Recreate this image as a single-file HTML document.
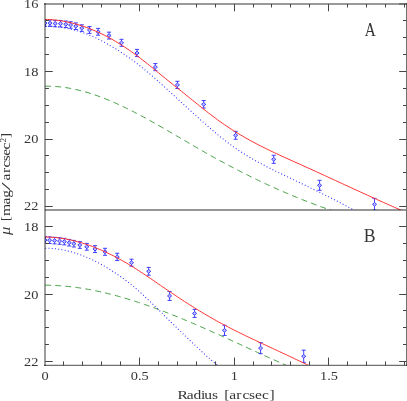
<!DOCTYPE html>
<html><head><meta charset="utf-8"><title>plot</title>
<style>html,body{margin:0;padding:0;background:#fff}svg{display:block}</style></head>
<body>
<svg width="407" height="401" viewBox="0 0 407 401">
<rect width="407" height="401" fill="#fff"/>
<defs><clipPath id="ca"><rect x="45" y="4" width="361" height="206"/></clipPath><clipPath id="cb"><rect x="45" y="210" width="361" height="155"/></clipPath></defs>
<g clip-path="url(#ca)" fill="none">
<path d="M45.20,86.24 L47.02,86.22 L48.85,86.23 L50.67,86.26 L52.49,86.33 L54.31,86.42 L56.14,86.54 L57.96,86.68 L59.78,86.86 L61.60,87.06 L63.43,87.29 L65.25,87.54 L67.07,87.82 L68.89,88.12 L70.72,88.45 L72.54,88.80 L74.36,89.17 L76.19,89.57 L78.01,89.99 L79.83,90.44 L81.65,90.90 L83.48,91.39 L85.30,91.90 L87.12,92.43 L88.94,92.98 L90.77,93.56 L92.59,94.15 L94.41,94.76 L96.23,95.39 L98.06,96.03 L99.88,96.70 L101.70,97.38 L103.53,98.09 L105.35,98.80 L107.17,99.54 L108.99,100.29 L110.82,101.06 L112.64,101.84 L114.46,102.64 L116.28,103.45 L118.11,104.27 L119.93,105.11 L121.75,105.97 L123.57,106.83 L125.40,107.71 L127.22,108.60 L129.04,109.50 L130.87,110.42 L132.69,111.34 L134.51,112.28 L136.33,113.22 L138.16,114.18 L139.98,115.14 L141.80,116.12 L143.62,117.10 L145.45,118.09 L147.27,119.09 L149.09,120.09 L150.91,121.10 L152.74,122.12 L154.56,123.15 L156.38,124.18 L158.21,125.22 L160.03,126.26 L161.85,127.30 L163.67,128.35 L165.50,129.41 L167.32,130.46 L169.14,131.52 L170.96,132.59 L172.79,133.65 L174.61,134.72 L176.43,135.78 L178.25,136.85 L180.08,137.92 L181.90,138.99 L183.72,140.06 L185.55,141.13 L187.37,142.20 L189.19,143.26 L191.01,144.33 L192.84,145.39 L194.66,146.45 L196.48,147.51 L198.30,148.56 L200.13,149.61 L201.95,150.65 L203.77,151.69 L205.59,152.73 L207.42,153.76 L209.24,154.78 L211.06,155.80 L212.89,156.82 L214.71,157.83 L216.53,158.83 L218.35,159.83 L220.18,160.82 L222.00,161.81 L223.82,162.79 L225.64,163.77 L227.47,164.74 L229.29,165.71 L231.11,166.67 L232.93,167.62 L234.76,168.57 L236.58,169.51 L238.40,170.45 L240.22,171.38 L242.05,172.31 L243.87,173.23 L245.69,174.15 L247.52,175.06 L249.34,175.96 L251.16,176.86 L252.98,177.75 L254.81,178.64 L256.63,179.52 L258.45,180.39 L260.27,181.26 L262.10,182.12 L263.92,182.98 L265.74,183.83 L267.56,184.68 L269.39,185.52 L271.21,186.35 L273.03,187.18 L274.86,188.00 L276.68,188.82 L278.50,189.62 L280.32,190.43 L282.15,191.22 L283.97,192.01 L285.79,192.80 L287.61,193.58 L289.44,194.35 L291.26,195.12 L293.08,195.88 L294.90,196.63 L296.73,197.38 L298.55,198.12 L300.37,198.85 L302.20,199.58 L304.02,200.30 L305.84,201.01 L307.66,201.72 L309.49,202.43 L311.31,203.12 L313.13,203.81 L314.95,204.49 L316.78,205.17 L318.60,205.84 L320.42,206.50 L322.24,207.16 L324.07,207.81 L325.89,208.45 L327.71,209.09 L329.54,209.71 L331.36,210.34 L333.18,210.95 L335.00,211.56" stroke="#46a046" stroke-width="1.0" stroke-dasharray="5.9 4.19"/>
<path d="M45.00,25.91 L46.98,25.99 L48.96,26.09 L50.94,26.22 L52.92,26.37 L54.91,26.56 L56.89,26.78 L58.87,27.03 L60.85,27.30 L62.83,27.61 L64.81,27.96 L66.79,28.33 L68.77,28.74 L70.76,29.18 L72.74,29.66 L74.72,30.17 L76.70,30.71 L78.68,31.29 L80.66,31.91 L82.64,32.57 L84.62,33.26 L86.60,33.99 L88.59,34.76 L90.57,35.57 L92.55,36.42 L94.53,37.31 L96.51,38.23 L98.49,39.19 L100.47,40.19 L102.45,41.21 L104.43,42.27 L106.42,43.36 L108.40,44.48 L110.38,45.63 L112.36,46.80 L114.34,47.99 L116.32,49.21 L118.30,50.45 L120.28,51.72 L122.27,53.01 L124.25,54.33 L126.23,55.68 L128.21,57.06 L130.19,58.47 L132.17,59.91 L134.15,61.38 L136.13,62.88 L138.11,64.41 L140.10,65.97 L142.08,67.56 L144.06,69.17 L146.04,70.80 L148.02,72.46 L150.00,74.13 L151.98,75.83 L153.96,77.54 L155.94,79.27 L157.93,81.02 L159.91,82.78 L161.89,84.55 L163.87,86.33 L165.85,88.13 L167.83,89.93 L169.81,91.74 L171.79,93.55 L173.78,95.37 L175.76,97.19 L177.74,99.01 L179.72,100.84 L181.70,102.67 L183.68,104.49 L185.66,106.31 L187.64,108.13 L189.62,109.95 L191.61,111.76 L193.59,113.56 L195.57,115.36 L197.55,117.15 L199.53,118.93 L201.51,120.69 L203.49,122.45 L205.47,124.19 L207.45,125.92 L209.44,127.64 L211.42,129.34 L213.40,131.02 L215.38,132.69 L217.36,134.33 L219.34,135.95 L221.32,137.55 L223.30,139.13 L225.29,140.68 L227.27,142.20 L229.25,143.69 L231.23,145.16 L233.21,146.59 L235.19,147.99 L237.17,149.36 L239.15,150.69 L241.13,152.00 L243.12,153.27 L245.10,154.52 L247.08,155.74 L249.06,156.93 L251.04,158.10 L253.02,159.24 L255.00,160.37 L256.98,161.47 L258.96,162.55 L260.95,163.62 L262.93,164.67 L264.91,165.70 L266.89,166.72 L268.87,167.73 L270.85,168.72 L272.83,169.71 L274.81,170.69 L276.80,171.66 L278.78,172.62 L280.76,173.58 L282.74,174.54 L284.72,175.49 L286.70,176.44 L288.68,177.39 L290.66,178.34 L292.64,179.29 L294.63,180.24 L296.61,181.18 L298.59,182.13 L300.57,183.08 L302.55,184.03 L304.53,184.98 L306.51,185.93 L308.49,186.89 L310.48,187.85 L312.46,188.81 L314.44,189.77 L316.42,190.74 L318.40,191.71 L320.38,192.69 L322.36,193.67 L324.34,194.65 L326.32,195.65 L328.31,196.64 L330.29,197.65 L332.27,198.65 L334.25,199.67 L336.23,200.69 L338.21,201.72 L340.19,202.75 L342.17,203.79 L344.15,204.83 L346.14,205.88 L348.12,206.94 L350.10,208.00 L352.08,209.06 L354.06,210.13 L356.04,211.21 L358.02,212.29 L360.00,213.38" stroke="#3030ff" stroke-width="1.05" stroke-dasharray="1.0 2.26"/>
<path d="M45.00,19.85V21.25M45.00,24.95V26.35M42.95,19.85h4.1M42.95,26.35h4.1M42.95,23.10L45.00,21.25L47.05,23.10L45.00,24.95Z M50.00,19.90V21.30M50.00,25.00V26.40M47.95,19.90h4.1M47.95,26.40h4.1M47.95,23.15L50.00,21.30L52.05,23.15L50.00,25.00Z M55.20,20.25V21.65M55.20,25.35V26.75M53.15,20.25h4.1M53.15,26.75h4.1M53.15,23.50L55.20,21.65L57.25,23.50L55.20,25.35Z M60.50,20.45V21.85M60.50,25.55V26.95M58.45,20.45h4.1M58.45,26.95h4.1M58.45,23.70L60.50,21.85L62.55,23.70L60.50,25.55Z M65.80,21.05V22.45M65.80,26.15V27.55M63.75,21.05h4.1M63.75,27.55h4.1M63.75,24.30L65.80,22.45L67.85,24.30L65.80,26.15Z M70.60,21.75V23.15M70.60,26.85V28.25M68.55,21.75h4.1M68.55,28.25h4.1M68.55,25.00L70.60,23.15L72.65,25.00L70.60,26.85Z M75.80,22.90V24.35M75.80,28.05V29.50M73.75,22.90h4.1M73.75,29.50h4.1M73.75,26.20L75.80,24.35L77.85,26.20L75.80,28.05Z M81.80,24.80V26.25M81.80,29.95V31.40M79.75,24.80h4.1M79.75,31.40h4.1M79.75,28.10L81.80,26.25L83.85,28.10L81.80,29.95Z M89.50,26.60V28.15M89.50,31.85V33.40M87.45,26.60h4.1M87.45,33.40h4.1M87.45,30.00L89.50,28.15L91.55,30.00L89.50,31.85Z M98.10,28.40V29.95M98.10,33.65V35.20M96.05,28.40h4.1M96.05,35.20h4.1M96.05,31.80L98.10,29.95L100.15,31.80L98.10,33.65Z M109.00,32.15V33.75M109.00,37.45V39.05M106.95,32.15h4.1M106.95,39.05h4.1M106.95,35.60L109.00,33.75L111.05,35.60L109.00,37.45Z M121.50,39.30V40.95M121.50,44.65V46.30M119.45,39.30h4.1M119.45,46.30h4.1M119.45,42.80L121.50,40.95L123.55,42.80L121.50,44.65Z M137.00,49.40V51.15M137.00,54.85V56.60M134.95,49.40h4.1M134.95,56.60h4.1M134.95,53.00L137.00,51.15L139.05,53.00L137.00,54.85Z M155.30,63.55V65.25M155.30,68.95V70.65M153.25,63.55h4.1M153.25,70.65h4.1M153.25,67.10L155.30,65.25L157.35,67.10L155.30,68.95Z M177.40,81.30V83.05M177.40,86.75V88.50M175.35,81.30h4.1M175.35,88.50h4.1M175.35,84.90L177.40,83.05L179.45,84.90L177.40,86.75Z M203.70,100.55V102.45M203.70,106.15V108.05M201.65,100.55h4.1M201.65,108.05h4.1M201.65,104.30L203.70,102.45L205.75,104.30L203.70,106.15Z M235.60,131.35V133.45M235.60,137.15V139.25M233.55,131.35h4.1M233.55,139.25h4.1M233.55,135.30L235.60,133.45L237.65,135.30L235.60,137.15Z M273.70,155.25V157.45M273.70,161.15V163.35M271.65,155.25h4.1M271.65,163.35h4.1M271.65,159.30L273.70,157.45L275.75,159.30L273.70,161.15Z M319.60,180.30V183.45M319.60,187.15V190.30M317.55,180.30h4.1M317.55,190.30h4.1M317.55,185.30L319.60,183.45L321.65,185.30L319.60,187.15Z M374.50,198.40V202.45M374.50,206.15V210.20M372.45,198.40h4.1M372.45,210.20h4.1M372.45,204.30L374.50,202.45L376.55,204.30L374.50,206.15Z" stroke="#2020ff" stroke-width="0.85" fill="#2020ff" fill-opacity="0.3"/>
<path d="M45.20,19.36 L47.47,19.45 L49.74,19.59 L52.01,19.76 L54.28,19.98 L56.55,20.24 L58.82,20.53 L61.08,20.87 L63.35,21.25 L65.62,21.67 L67.89,22.13 L70.16,22.63 L72.43,23.18 L74.70,23.76 L76.97,24.38 L79.24,25.05 L81.51,25.76 L83.78,26.51 L86.05,27.30 L88.31,28.13 L90.58,29.00 L92.85,29.92 L95.12,30.88 L97.39,31.88 L99.66,32.92 L101.93,34.01 L104.20,35.13 L106.47,36.30 L108.74,37.51 L111.01,38.76 L113.28,40.05 L115.55,41.38 L117.81,42.75 L120.08,44.15 L122.35,45.60 L124.62,47.08 L126.89,48.59 L129.16,50.14 L131.43,51.73 L133.70,53.34 L135.97,55.00 L138.24,56.68 L140.51,58.40 L142.78,60.14 L145.05,61.92 L147.31,63.72 L149.58,65.54 L151.85,67.38 L154.12,69.24 L156.39,71.10 L158.66,72.96 L160.93,74.82 L163.20,76.68 L165.47,78.53 L167.74,80.37 L170.01,82.19 L172.28,84.00 L174.54,85.80 L176.81,87.60 L179.08,89.41 L181.35,91.21 L183.62,93.03 L185.89,94.86 L188.16,96.69 L190.43,98.52 L192.70,100.35 L194.97,102.18 L197.24,104.01 L199.51,105.83 L201.78,107.64 L204.04,109.44 L206.31,111.22 L208.58,112.99 L210.85,114.74 L213.12,116.46 L215.39,118.16 L217.66,119.84 L219.93,121.48 L222.20,123.09 L224.47,124.67 L226.74,126.21 L229.01,127.72 L231.28,129.20 L233.54,130.65 L235.81,132.07 L238.08,133.46 L240.35,134.82 L242.62,136.15 L244.89,137.46 L247.16,138.75 L249.43,140.01 L251.70,141.25 L253.97,142.47 L256.24,143.67 L258.51,144.85 L260.77,146.01 L263.04,147.15 L265.31,148.28 L267.58,149.39 L269.85,150.49 L272.12,151.58 L274.39,152.66 L276.66,153.72 L278.93,154.78 L281.20,155.83 L283.47,156.87 L285.74,157.90 L288.01,158.93 L290.27,159.95 L292.54,160.97 L294.81,161.99 L297.08,163.01 L299.35,164.03 L301.62,165.05 L303.89,166.07 L306.16,167.10 L308.43,168.13 L310.70,169.16 L312.97,170.19 L315.24,171.22 L317.50,172.26 L319.77,173.29 L322.04,174.33 L324.31,175.37 L326.58,176.41 L328.85,177.46 L331.12,178.50 L333.39,179.54 L335.66,180.59 L337.93,181.63 L340.20,182.68 L342.47,183.72 L344.74,184.77 L347.00,185.81 L349.27,186.86 L351.54,187.90 L353.81,188.94 L356.08,189.98 L358.35,191.02 L360.62,192.06 L362.89,193.10 L365.16,194.14 L367.43,195.17 L369.70,196.21 L371.97,197.24 L374.24,198.26 L376.50,199.29 L378.77,200.31 L381.04,201.33 L383.31,202.35 L385.58,203.37 L387.85,204.38 L390.12,205.38 L392.39,206.39 L394.66,207.39 L396.93,208.39 L399.20,209.38 L401.47,210.37 L403.73,211.35 L406.00,212.33" stroke="#ff3030" stroke-width="1.0"/>
</g>
<g clip-path="url(#cb)" fill="none">
<path d="M45.20,285.18 L46.75,285.19 L48.30,285.22 L49.86,285.26 L51.41,285.31 L52.96,285.36 L54.51,285.43 L56.07,285.51 L57.62,285.60 L59.17,285.70 L60.72,285.81 L62.27,285.93 L63.83,286.06 L65.38,286.20 L66.93,286.35 L68.48,286.51 L70.04,286.68 L71.59,286.86 L73.14,287.04 L74.69,287.24 L76.24,287.45 L77.80,287.66 L79.35,287.89 L80.90,288.12 L82.45,288.36 L84.01,288.62 L85.56,288.88 L87.11,289.15 L88.66,289.42 L90.21,289.71 L91.77,290.00 L93.32,290.31 L94.87,290.62 L96.42,290.94 L97.98,291.27 L99.53,291.60 L101.08,291.94 L102.63,292.30 L104.18,292.65 L105.74,293.02 L107.29,293.40 L108.84,293.78 L110.39,294.17 L111.95,294.56 L113.50,294.97 L115.05,295.38 L116.60,295.80 L118.15,296.22 L119.71,296.65 L121.26,297.09 L122.81,297.54 L124.36,297.99 L125.92,298.45 L127.47,298.91 L129.02,299.39 L130.57,299.86 L132.12,300.35 L133.68,300.84 L135.23,301.34 L136.78,301.84 L138.33,302.35 L139.89,302.86 L141.44,303.38 L142.99,303.91 L144.54,304.44 L146.09,304.98 L147.65,305.52 L149.20,306.06 L150.75,306.62 L152.30,307.18 L153.86,307.74 L155.41,308.31 L156.96,308.88 L158.51,309.46 L160.06,310.04 L161.62,310.63 L163.17,311.22 L164.72,311.81 L166.27,312.41 L167.83,313.02 L169.38,313.63 L170.93,314.24 L172.48,314.86 L174.03,315.48 L175.59,316.10 L177.14,316.73 L178.69,317.36 L180.24,318.00 L181.80,318.64 L183.35,319.28 L184.90,319.93 L186.45,320.58 L188.00,321.23 L189.56,321.89 L191.11,322.55 L192.66,323.21 L194.21,323.87 L195.77,324.54 L197.32,325.21 L198.87,325.88 L200.42,326.56 L201.97,327.24 L203.53,327.92 L205.08,328.60 L206.63,329.29 L208.18,329.97 L209.74,330.66 L211.29,331.35 L212.84,332.04 L214.39,332.74 L215.94,333.44 L217.50,334.13 L219.05,334.83 L220.60,335.53 L222.15,336.24 L223.71,336.94 L225.26,337.64 L226.81,338.35 L228.36,339.06 L229.91,339.76 L231.47,340.47 L233.02,341.18 L234.57,341.89 L236.12,342.60 L237.68,343.31 L239.23,344.02 L240.78,344.73 L242.33,345.45 L243.88,346.16 L245.44,346.87 L246.99,347.58 L248.54,348.29 L250.09,349.01 L251.65,349.72 L253.20,350.43 L254.75,351.14 L256.30,351.85 L257.85,352.56 L259.41,353.27 L260.96,353.98 L262.51,354.68 L264.06,355.39 L265.62,356.10 L267.17,356.80 L268.72,357.50 L270.27,358.21 L271.82,358.91 L273.38,359.61 L274.93,360.30 L276.48,361.00 L278.03,361.69 L279.59,362.39 L281.14,363.08 L282.69,363.77 L284.24,364.45 L285.79,365.14 L287.35,365.82 L288.90,366.50 L290.45,367.18 L292.00,367.85" stroke="#46a046" stroke-width="1.0" stroke-dasharray="5.9 4.19"/>
<path d="M45.20,248.20 L46.31,248.20 L47.42,248.22 L48.54,248.26 L49.65,248.30 L50.76,248.36 L51.87,248.44 L52.98,248.53 L54.10,248.63 L55.21,248.74 L56.32,248.87 L57.43,249.01 L58.54,249.16 L59.66,249.33 L60.77,249.51 L61.88,249.71 L62.99,249.91 L64.10,250.13 L65.22,250.36 L66.33,250.61 L67.44,250.87 L68.55,251.13 L69.66,251.42 L70.78,251.71 L71.89,252.02 L73.00,252.34 L74.11,252.67 L75.22,253.01 L76.34,253.37 L77.45,253.74 L78.56,254.12 L79.67,254.51 L80.78,254.91 L81.89,255.33 L83.01,255.76 L84.12,256.19 L85.23,256.64 L86.34,257.11 L87.45,257.58 L88.57,258.06 L89.68,258.56 L90.79,259.07 L91.90,259.58 L93.01,260.11 L94.13,260.65 L95.24,261.20 L96.35,261.77 L97.46,262.34 L98.57,262.92 L99.69,263.52 L100.80,264.12 L101.91,264.74 L103.02,265.36 L104.13,266.00 L105.25,266.64 L106.36,267.30 L107.47,267.97 L108.58,268.64 L109.69,269.33 L110.81,270.03 L111.92,270.73 L113.03,271.45 L114.14,272.18 L115.25,272.91 L116.37,273.66 L117.48,274.41 L118.59,275.18 L119.70,275.96 L120.81,276.74 L121.93,277.54 L123.04,278.35 L124.15,279.17 L125.26,280.00 L126.37,280.84 L127.49,281.69 L128.60,282.55 L129.71,283.43 L130.82,284.32 L131.93,285.22 L133.05,286.13 L134.16,287.05 L135.27,287.99 L136.38,288.94 L137.49,289.90 L138.61,290.88 L139.72,291.87 L140.83,292.86 L141.94,293.88 L143.05,294.90 L144.17,295.93 L145.28,296.97 L146.39,298.02 L147.50,299.07 L148.61,300.13 L149.72,301.20 L150.84,302.28 L151.95,303.35 L153.06,304.44 L154.17,305.52 L155.28,306.61 L156.40,307.70 L157.51,308.80 L158.62,309.89 L159.73,310.99 L160.84,312.09 L161.96,313.19 L163.07,314.29 L164.18,315.39 L165.29,316.49 L166.40,317.58 L167.52,318.68 L168.63,319.78 L169.74,320.87 L170.85,321.96 L171.96,323.05 L173.08,324.14 L174.19,325.23 L175.30,326.31 L176.41,327.39 L177.52,328.47 L178.64,329.55 L179.75,330.63 L180.86,331.70 L181.97,332.78 L183.08,333.85 L184.20,334.92 L185.31,335.99 L186.42,337.06 L187.53,338.13 L188.64,339.20 L189.76,340.26 L190.87,341.33 L191.98,342.39 L193.09,343.45 L194.20,344.50 L195.32,345.55 L196.43,346.60 L197.54,347.64 L198.65,348.68 L199.76,349.72 L200.88,350.75 L201.99,351.78 L203.10,352.80 L204.21,353.81 L205.32,354.83 L206.44,355.83 L207.55,356.83 L208.66,357.83 L209.77,358.81 L210.88,359.80 L212.00,360.77 L213.11,361.74 L214.22,362.70 L215.33,363.65 L216.44,364.60 L217.55,365.54 L218.67,366.47 L219.78,367.40 L220.89,368.31 L222.00,369.22" stroke="#3030ff" stroke-width="1.05" stroke-dasharray="1.0 2.26"/>
<path d="M45.00,236.80V238.25M45.00,241.95V243.40M42.95,236.80h4.1M42.95,243.40h4.1M42.95,240.10L45.00,238.25L47.05,240.10L45.00,241.95Z M49.60,236.90V238.35M49.60,242.05V243.50M47.55,236.90h4.1M47.55,243.50h4.1M47.55,240.20L49.60,238.35L51.65,240.20L49.60,242.05Z M54.60,237.30V238.75M54.60,242.45V243.90M52.55,237.30h4.1M52.55,243.90h4.1M52.55,240.60L54.60,238.75L56.65,240.60L54.60,242.45Z M59.60,237.70V239.15M59.60,242.85V244.30M57.55,237.70h4.1M57.55,244.30h4.1M57.55,241.00L59.60,239.15L61.65,241.00L59.60,242.85Z M64.30,238.30V239.75M64.30,243.45V244.90M62.25,238.30h4.1M62.25,244.90h4.1M62.25,241.60L64.30,239.75L66.35,241.60L64.30,243.45Z M69.20,239.40V240.85M69.20,244.55V246.00M67.15,239.40h4.1M67.15,246.00h4.1M67.15,242.70L69.20,240.85L71.25,242.70L69.20,244.55Z M73.90,240.40V241.85M73.90,245.55V247.00M71.85,240.40h4.1M71.85,247.00h4.1M71.85,243.70L73.90,241.85L75.95,243.70L73.90,245.55Z M79.80,241.65V243.15M79.80,246.85V248.35M77.75,241.65h4.1M77.75,248.35h4.1M77.75,245.00L79.80,243.15L81.85,245.00L79.80,246.85Z M86.80,243.40V244.95M86.80,248.65V250.20M84.75,243.40h4.1M84.75,250.20h4.1M84.75,246.80L86.80,244.95L88.85,246.80L86.80,248.65Z M95.00,245.65V247.25M95.00,250.95V252.55M92.95,245.65h4.1M92.95,252.55h4.1M92.95,249.10L95.00,247.25L97.05,249.10L95.00,250.95Z M105.00,248.30V249.95M105.00,253.65V255.30M102.95,248.30h4.1M102.95,255.30h4.1M102.95,251.80L105.00,249.95L107.05,251.80L105.00,253.65Z M117.20,253.25V255.05M117.20,258.75V260.55M115.15,253.25h4.1M115.15,260.55h4.1M115.15,256.90L117.20,255.05L119.25,256.90L117.20,258.75Z M131.50,259.20V260.85M131.50,264.55V266.20M129.45,259.20h4.1M129.45,266.20h4.1M129.45,262.70L131.50,260.85L133.55,262.70L131.50,264.55Z M148.70,267.40V269.45M148.70,273.15V275.20M146.65,267.40h4.1M146.65,275.20h4.1M146.65,271.30L148.70,269.45L150.75,271.30L148.70,273.15Z M169.60,291.45V294.10M169.60,297.80V300.45M167.55,291.45h4.1M167.55,300.45h4.1M167.55,295.95L169.60,294.10L171.65,295.95L169.60,297.80Z M194.60,309.35V311.55M194.60,315.25V317.45M192.55,309.35h4.1M192.55,317.45h4.1M192.55,313.40L194.60,311.55L196.65,313.40L194.60,315.25Z M224.50,325.25V328.50M224.50,332.20V335.45M222.45,325.25h4.1M222.45,335.45h4.1M222.45,330.35L224.50,328.50L226.55,330.35L224.50,332.20Z M260.60,342.65V346.30M260.60,350.00V353.65M258.55,342.65h4.1M258.55,353.65h4.1M258.55,348.15L260.60,346.30L262.65,348.15L260.60,350.00Z M303.70,350.15V354.40M303.70,358.10V362.35M301.65,350.15h4.1M301.65,362.35h4.1M301.65,356.25L303.70,354.40L305.75,356.25L303.70,358.10Z" stroke="#2020ff" stroke-width="0.85" fill="#2020ff" fill-opacity="0.3"/>
<path d="M45.20,237.01 L46.90,237.05 L48.59,237.11 L50.29,237.19 L51.99,237.30 L53.68,237.43 L55.38,237.59 L57.08,237.76 L58.78,237.96 L60.47,238.19 L62.17,238.44 L63.87,238.71 L65.56,239.00 L67.26,239.31 L68.96,239.65 L70.65,240.01 L72.35,240.39 L74.05,240.79 L75.74,241.22 L77.44,241.66 L79.14,242.13 L80.83,242.62 L82.53,243.12 L84.23,243.65 L85.93,244.20 L87.62,244.78 L89.32,245.37 L91.02,245.98 L92.71,246.61 L94.41,247.26 L96.11,247.93 L97.80,248.62 L99.50,249.33 L101.20,250.05 L102.89,250.80 L104.59,251.57 L106.29,252.35 L107.98,253.15 L109.68,253.97 L111.38,254.81 L113.08,255.67 L114.77,256.55 L116.47,257.44 L118.17,258.35 L119.86,259.28 L121.56,260.22 L123.26,261.18 L124.95,262.16 L126.65,263.15 L128.35,264.16 L130.04,265.19 L131.74,266.23 L133.44,267.29 L135.13,268.36 L136.83,269.44 L138.53,270.53 L140.23,271.64 L141.92,272.75 L143.62,273.87 L145.32,275.01 L147.01,276.14 L148.71,277.29 L150.41,278.44 L152.10,279.59 L153.80,280.75 L155.50,281.91 L157.19,283.07 L158.89,284.24 L160.59,285.40 L162.28,286.57 L163.98,287.73 L165.68,288.89 L167.38,290.05 L169.07,291.20 L170.77,292.35 L172.47,293.50 L174.16,294.64 L175.86,295.78 L177.56,296.92 L179.25,298.04 L180.95,299.16 L182.65,300.28 L184.34,301.38 L186.04,302.48 L187.74,303.57 L189.43,304.66 L191.13,305.73 L192.83,306.80 L194.53,307.85 L196.22,308.90 L197.92,309.95 L199.62,310.98 L201.31,312.00 L203.01,313.02 L204.71,314.03 L206.40,315.02 L208.10,316.01 L209.80,316.99 L211.49,317.97 L213.19,318.93 L214.89,319.88 L216.58,320.83 L218.28,321.76 L219.98,322.69 L221.68,323.60 L223.37,324.51 L225.07,325.41 L226.77,326.30 L228.46,327.18 L230.16,328.05 L231.86,328.92 L233.55,329.78 L235.25,330.63 L236.95,331.48 L238.64,332.32 L240.34,333.15 L242.04,333.98 L243.73,334.81 L245.43,335.63 L247.13,336.45 L248.83,337.26 L250.52,338.07 L252.22,338.88 L253.92,339.68 L255.61,340.48 L257.31,341.28 L259.01,342.08 L260.70,342.88 L262.40,343.67 L264.10,344.46 L265.79,345.25 L267.49,346.04 L269.19,346.83 L270.88,347.62 L272.58,348.41 L274.28,349.20 L275.98,349.99 L277.67,350.77 L279.37,351.56 L281.07,352.35 L282.76,353.14 L284.46,353.94 L286.16,354.73 L287.85,355.52 L289.55,356.32 L291.25,357.12 L292.94,357.92 L294.64,358.73 L296.34,359.54 L298.03,360.35 L299.73,361.16 L301.43,361.98 L303.13,362.80 L304.82,363.62 L306.52,364.45 L308.22,365.29 L309.91,366.13 L311.61,366.97 L313.31,367.82 L315.00,368.67" stroke="#ff3030" stroke-width="1.0"/>
</g>
<g fill="none" stroke="#000">
<path d="M45,3V366" stroke-width="2" stroke-opacity="0.38"/>
<path d="M44,4H407" stroke-width="2" stroke-opacity="0.40"/>
<path d="M406.5,3V366" stroke-width="1" stroke-opacity="0.56"/>
<path d="M44,365.4H407" stroke-width="1.25" stroke-opacity="0.56"/>
<path d="M45,209.95H406" stroke-width="1.5" stroke-opacity="0.55"/>
<path d="M399,4H406" stroke-width="1.6" stroke-opacity="0.3"/>
</g>
<path d="M63.5,365.4v-4.0 M63.5,4.0v3.5 M82.5,365.4v-4.0 M82.5,4.0v3.5 M101.5,365.4v-4.0 M101.5,4.0v3.5 M120.5,365.4v-4.0 M120.5,4.0v3.5 M139.5,365.4v-7.8 M139.5,4.0v7.3 M158.5,365.4v-4.0 M158.5,4.0v3.5 M177.5,365.4v-4.0 M177.5,4.0v3.5 M196.5,365.4v-4.0 M196.5,4.0v3.5 M215.5,365.4v-4.0 M215.5,4.0v3.5 M234.5,365.4v-7.8 M234.5,4.0v7.3 M253.5,365.4v-4.0 M253.5,4.0v3.5 M271.5,365.4v-4.0 M271.5,4.0v3.5 M290.5,365.4v-4.0 M290.5,4.0v3.5 M309.5,365.4v-4.0 M309.5,4.0v3.5 M328.5,365.4v-7.8 M328.5,4.0v7.3 M347.5,365.4v-4.0 M347.5,4.0v3.5 M366.5,365.4v-4.0 M366.5,4.0v3.5 M385.5,365.4v-4.0 M385.5,4.0v3.5 M404.5,365.4v-4.0 M404.5,4.0v3.5 M45.0,20.5h3.95 M406.5,20.5h-3.5 M45.0,37.5h3.95 M406.5,37.5h-3.5 M45.0,54.5h3.95 M406.5,54.5h-3.5 M45.0,71.5h7.75 M406.5,71.5h-7.3 M45.0,88.5h3.95 M406.5,88.5h-3.5 M45.0,105.5h3.95 M406.5,105.5h-3.5 M45.0,122.5h3.95 M406.5,122.5h-3.5 M45.0,139.5h7.75 M406.5,139.5h-7.3 M45.0,155.5h3.95 M406.5,155.5h-3.5 M45.0,172.5h3.95 M406.5,172.5h-3.5 M45.0,189.5h3.95 M406.5,189.5h-3.5 M45.0,206.5h7.75 M406.5,206.5h-7.3 M45.0,226.5h7.75 M406.5,226.5h-7.3 M45.0,243.5h3.95 M406.5,243.5h-3.5 M45.0,260.5h3.95 M406.5,260.5h-3.5 M45.0,277.5h3.95 M406.5,277.5h-3.5 M45.0,294.5h7.75 M406.5,294.5h-7.3 M45.0,310.5h3.95 M406.5,310.5h-3.5 M45.0,327.5h3.95 M406.5,327.5h-3.5 M45.0,344.5h3.95 M406.5,344.5h-3.5 M45.0,361.5h7.75 M406.5,361.5h-7.3" stroke="#454545" stroke-width="1" fill="none"/>
<g font-family="'Liberation Serif', serif" fill="#333" opacity="0.99">
<text transform="translate(38.45,7.7) scale(1.14,1)" text-anchor="end" font-size="12.6">16</text>
<text transform="translate(38.45,75.5) scale(1.14,1)" text-anchor="end" font-size="12.6">18</text>
<text transform="translate(38.45,142.6) scale(1.14,1)" text-anchor="end" font-size="12.6">20</text>
<text transform="translate(38.45,210.3) scale(1.14,1)" text-anchor="end" font-size="12.6">22</text>
<text transform="translate(38.45,231.2) scale(1.14,1)" text-anchor="end" font-size="12.6">18</text>
<text transform="translate(38.45,298.5) scale(1.14,1)" text-anchor="end" font-size="12.6">20</text>
<text transform="translate(38.45,365.7) scale(1.14,1)" text-anchor="end" font-size="12.6">22</text>
<text transform="translate(45,379.8) scale(1.14,1)" text-anchor="middle" font-size="12.6">0</text>
<text transform="translate(139.7,379.8) scale(1.14,1)" text-anchor="middle" font-size="12.6">0.5</text>
<text transform="translate(234.3,379.8) scale(1.14,1)" text-anchor="middle" font-size="12.6">1</text>
<text transform="translate(329,379.8) scale(1.14,1)" text-anchor="middle" font-size="12.6">1.5</text>
<text transform="translate(0,399.1) scale(1.15,1)" x="154.35 162.43 168.17 174.87 177.65 184.43 189.65 195.04 199.3 205.48 210.87 216.61 221.74 227.74 234.26" y="0" font-size="13.5">Radius [arcsec]</text>
<g transform="translate(10.3,235) rotate(-90) scale(1.15,1)" font-size="13.5"><text x="-0.09" y="0" font-style="italic" font-size="14.5">μ</text><text x="11.91" y="0">[</text><text x="16.43 26.43 32.43" y="0">mag</text><text transform="translate(38.7,0) scale(1.9,1)" x="0" y="0">/</text><text x="47.39 54.0 58.78 64.09 68.87 74.26" y="0">arcsec</text><text x="80.43" y="-4.8" font-size="8">2</text><text x="84.26" y="0">]</text></g>
<text x="370.3" y="36" text-anchor="middle" font-size="19.5" textLength="11" lengthAdjust="spacingAndGlyphs" >A</text>
<text x="369.7" y="241.7" text-anchor="middle" font-size="19.5" textLength="11.8" lengthAdjust="spacingAndGlyphs" >B</text>
</g>
</svg>
</body></html>
